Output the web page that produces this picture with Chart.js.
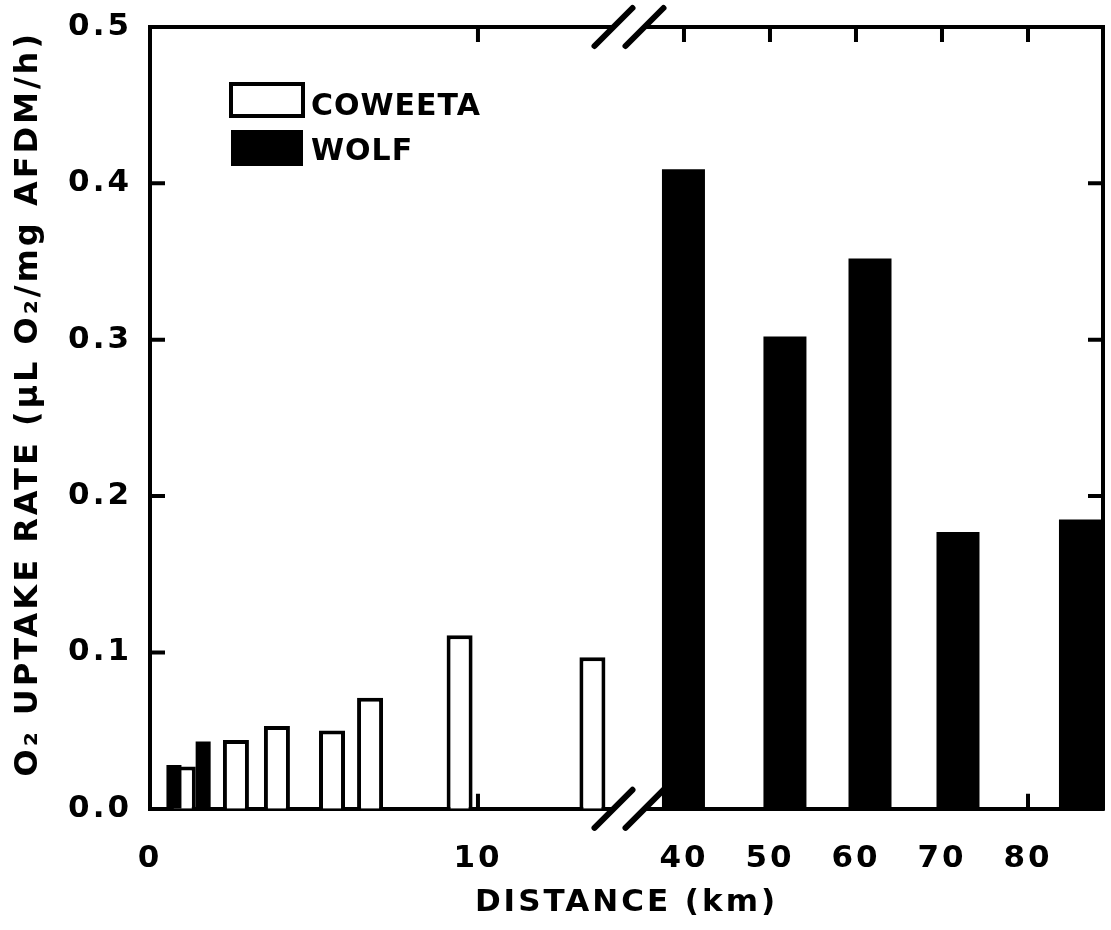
<!DOCTYPE html>
<html lang="en">
<head>
<meta charset="UTF-8">
<title>O2 uptake rate vs distance</title>
<style>
    body { margin: 0; background: #ffffff; }
    #wrap { width: 1111px; height: 930px; }
</style>
</head>
<body>
<div id="wrap"><canvas id="uptakeChart" width="1111" height="930"></canvas></div>

<script src="https://cdn.jsdelivr.net/npm/chart.js"></script>
<script>
    // Coweeta (open bars), upper 15 km of the stream
    const coweetaKm   = [1.0, 2.62, 3.87, 5.55, 6.71, 9.44, 13.49];
    const coweetaRate = [0.027, 0.044, 0.053, 0.050, 0.071, 0.111, 0.097];
    // Wolf (solid bars), near the source and past the axis break
    const wolfNearKm   = [0.73, 1.62];
    const wolfNearRate = [0.028, 0.043];
    const wolfFarKm    = [39.94, 51.74, 61.63, 71.86, 86.1];
    const wolfFarRate  = [0.409, 0.302, 0.352, 0.177, 0.185];

    const nearTicks = [0, 10];
    const farTicks  = [40, 50, 60, 70, 80];
    const rateTicks = [0, 0.1, 0.2, 0.3, 0.4, 0.5];

    const FAMILY = "'DejaVu Sans', sans-serif";
    const boldFont = (size) => ({ family: FAMILY, size: size, weight: 'bold' });
    const pairs = (xs, ys) => xs.map((x, i) => ({ x: x, y: ys[i] }));
    const setTicks = (list) => (scale) => { scale.ticks = list.map(v => ({ value: v })); };
    const noPad = (s) => { s.paddingLeft = s.paddingRight = s.paddingTop = s.paddingBottom = 0; };

    // wide lettering like the original typesetting
    const spacing = {
        id: 'spacing',
        beforeLayout(chart) { chart.ctx.letterSpacing = '3px'; },
        beforeDraw(chart) { chart.ctx.letterSpacing = '3px'; }
    };

    // top/right frame, inward ticks, axis break and the legend
    const frame = {
        id: 'frame',
        afterDraw(chart) {
            const { ctx, chartArea: a, scales } = chart;
            const near = scales.xNear, far = scales.xFar, y = scales.y;
            const T = 15;
            ctx.save();
            ctx.strokeStyle = '#000';
            ctx.lineWidth = 4;
            ctx.beginPath();
            ctx.moveTo(a.left - 2, a.top);
            ctx.lineTo(a.right, a.top);
            ctx.lineTo(a.right, a.bottom + 2);
            ctx.stroke();

            ctx.beginPath();
            rateTicks.slice(1, -1).forEach(v => {
                const py = y.getPixelForValue(v);
                ctx.moveTo(a.left, py); ctx.lineTo(a.left + T, py);
                ctx.moveTo(a.right, py); ctx.lineTo(a.right - T, py);
            });
            const xs = nearTicks.filter(v => v > 0).map(v => near.getPixelForValue(v))
                .concat(farTicks.map(v => far.getPixelForValue(v)));
            xs.forEach(px => {
                ctx.moveTo(px, a.top); ctx.lineTo(px, a.top + T);
                ctx.moveTo(px, a.bottom); ctx.lineTo(px, a.bottom - T);
            });
            ctx.stroke();

            // break marks
            const bx = far.left;
            [a.top, a.bottom].forEach(py => {
                ctx.fillStyle = '#fff';
                ctx.fillRect(bx - 15, py - 3, 31, 6);
                ctx.lineWidth = 6;
                ctx.lineCap = 'round';
                ctx.beginPath();
                [-15, 16].forEach(dx => {
                    ctx.moveTo(bx + dx - 19, py + 19);
                    ctx.lineTo(bx + dx + 19, py - 19);
                });
                ctx.stroke();
            });

            // legend
            const cow = chart.data.datasets[2], wolf = chart.data.datasets[1];
            ctx.lineCap = 'butt';
            ctx.fillStyle = cow.backgroundColor;
            ctx.fillRect(229, 82, 76, 36);
            ctx.lineWidth = cow.borderWidth;
            ctx.strokeStyle = cow.borderColor;
            ctx.strokeRect(231, 84, 72, 32);
            ctx.fillStyle = wolf.backgroundColor;
            ctx.fillRect(231, 130, 72, 36);
            ctx.fillStyle = '#000';
            ctx.letterSpacing = '1px';
            ctx.font = "bold 30px " + FAMILY;
            ctx.textBaseline = 'alphabetic';
            ctx.textAlign = 'left';
            ctx.fillText(cow.label, 311, 115);
            ctx.fillText(wolf.label, 311, 160);
            ctx.restore();
        }
    };

    const xAxis = (extra) => Object.assign({
        type: 'linear',
        position: 'bottom',
        offset: false,
        afterFit: (s) => { s.height = 70; noPad(s); },
        grid: { display: false, drawTicks: false },
        border: { display: true, color: '#000', width: 4 },
        ticks: { color: '#000', font: boldFont(31), padding: 32, maxRotation: 0, autoSkip: false }
    }, extra);

    const chart = new Chart(document.getElementById('uptakeChart'), {
        type: 'bar',
        data: {
            datasets: [{
                label: 'WOLF',
                data: pairs(wolfNearKm, wolfNearRate),
                xAxisID: 'xWolfNear',
                grouped: false,
                backgroundColor: '#000',
                borderWidth: 0,
                maxBarThickness: 15
            }, {
                label: 'WOLF',
                data: pairs(wolfFarKm, wolfFarRate),
                xAxisID: 'xFar',
                grouped: false,
                backgroundColor: '#000',
                borderWidth: 0,
                maxBarThickness: 43
            }, {
                label: 'COWEETA',
                data: pairs(coweetaKm, coweetaRate),
                xAxisID: 'xNear',
                grouped: false,
                backgroundColor: '#fff',
                borderColor: '#000',
                borderWidth: 4,
                maxBarThickness: 26
            }]
        },
        options: {
            responsive: false,
            animation: false,
            layout: { padding: { top: 27, right: 8, left: 0, bottom: 0 } },
            plugins: {
                legend: { display: false },
                tooltip: { enabled: false },
                title: {
                    display: true,
                    position: 'bottom',
                    fullSize: false,
                    text: 'DISTANCE (km)',
                    color: '#000',
                    font: boldFont(31),
                    padding: { top: 6, bottom: 8 }
                }
            },
            scales: {
                y: {
                    type: 'linear',
                    position: 'left',
                    min: 0,
                    max: 0.5,
                    stacked: false,
                    afterFit: (s) => { s.width = 150; noPad(s); },
                    afterBuildTicks: setTicks(rateTicks),
                    grid: { display: false, drawTicks: false },
                    border: { display: true, color: '#000', width: 4 },
                    ticks: {
                        color: '#000',
                        font: boldFont(31),
                        padding: 18,
                        callback: (v) => Number(v).toFixed(1)
                    },
                    title: {
                        display: true,
                        text: '  O₂ UPTAKE RATE (µL O₂/mg AFDM/h)',
                        color: '#000',
                        font: boldFont(32),
                        padding: { top: 9, bottom: 0 }
                    }
                },
                xNear: xAxis({
                    stack: 'dist',
                    stackWeight: 478.5,
                    min: 0,
                    max: 14.59,
                    afterBuildTicks: setTicks(nearTicks)
                }),
                xFar: xAxis({
                    stack: 'dist',
                    stackWeight: 474.5,
                    min: 33.55,
                    max: 88.72,
                    afterBuildTicks: setTicks(farTicks)
                }),
                // same km scale as xNear, spread over the whole plot, for the Wolf bars near the source
                xWolfNear: {
                    type: 'linear',
                    display: false,
                    min: 0,
                    max: 29.05,
                    offset: false
                }
            }
        },
        plugins: [spacing, frame]
    });
</script>
</body>
</html>
